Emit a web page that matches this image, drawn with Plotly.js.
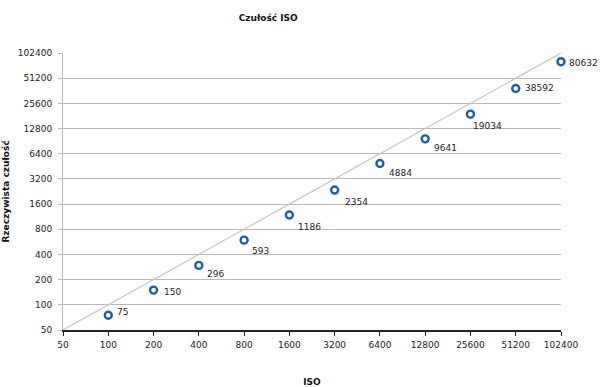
<!DOCTYPE html>
<html>
<head>
<meta charset="utf-8">
<script src="https://cdn.plot.ly/plotly-3.0.1.min.js"></script>
<style>html,body{margin:0;padding:0;background:#fff;}#chart{width:600px;height:387px;}</style>
</head>
<body>
<div id="chart"></div>
<script>
const isoNominal = [100, 200, 400, 800, 1600, 3200, 6400, 12800, 25600, 51200, 102400];
const isoMeasured = [75, 150, 296, 593, 1186, 2354, 4884, 9641, 19034, 38592, 80632];
const tickValues = [50, 100, 200, 400, 800, 1600, 3200, 6400, 12800, 25600, 51200, 102400];
const tickLabels = ["50", "100", "200", "400", "800", "1600", "3200", "6400", "12800", "25600", "51200", "102400"];
const refLine = [50, 102400];

// label offsets in pixels (style only)
const labelShiftY = [3, -2, -9, -11, -12, -12, -9, -9, -12, 0, -1];
const labelShiftX = [7, 8, 6, 6, 7, 8, 7, 7, 1, 7, 6];

const font = "DejaVu Sans, Verdana, sans-serif";
const traces = [
  {
    x: refLine, y: refLine, mode: "lines", type: "scatter",
    line: {color: "#c4c4c4", width: 1.2}, hoverinfo: "skip", showlegend: false
  },
  {
    x: isoNominal, y: isoMeasured, mode: "markers", type: "scatter",
    marker: {symbol: "circle-open", size: 7, color: "#1a5ea6", line: {width: 2.4, color: "#1a5ea6"}},
    showlegend: false, cliponaxis: false
  }
];
const annotations = isoNominal.map((x, i) => ({
  x: Math.log10(x), y: Math.log10(isoMeasured[i]), xref: "x", yref: "y",
  text: String(isoMeasured[i]), showarrow: false,
  xanchor: "left", yanchor: "middle",
  xshift: labelShiftX[i], yshift: labelShiftY[i],
  font: {family: font, size: 9, color: "#222"}
}));
const axisCommon = {
  type: "log",
  range: [Math.log10(50), Math.log10(102400)],
  tickmode: "array",
  tickvals: tickValues,
  ticktext: tickLabels,
  tickfont: {family: font, size: 9, color: "#222"},
  ticks: "outside",
  ticklen: 4,
  zeroline: false,
  automargin: false
};
const layout = {
  width: 600, height: 387,
  margin: {l: 63, r: 39, t: 53, b: 57},
  paper_bgcolor: "#fff", plot_bgcolor: "#fff",
  showlegend: false,
  annotations: annotations,
  title: {text: "<b>Czułość ISO</b>", font: {family: font, size: 9, color: "#111"}, x: 0.447, xanchor: "center", y: 0.955, yanchor: "middle"},
  xaxis: Object.assign({}, axisCommon, {
    showgrid: false, showline: true, linecolor: "#222", linewidth: 1.5, tickcolor: "#222",
    ticklabelstandoff: 2,
    title: {text: "<b>ISO</b>", font: {family: font, size: 9, color: "#111"}, standoff: 29}
  }),
  yaxis: Object.assign({}, axisCommon, {
    showgrid: true, gridcolor: "#b8b8b8", gridwidth: 1, showline: true, linecolor: "#b8b8b8", linewidth: 1, tickcolor: "#b8b8b8",
    ticklabelstandoff: 4,
    title: {text: "<b>Rzeczywista czułość</b>", font: {family: font, size: 9, color: "#111"}, standoff: 6}
  })
};
Plotly.newPlot("chart", traces, layout, {staticPlot: true, displayModeBar: false});
</script>
</body>
</html>
